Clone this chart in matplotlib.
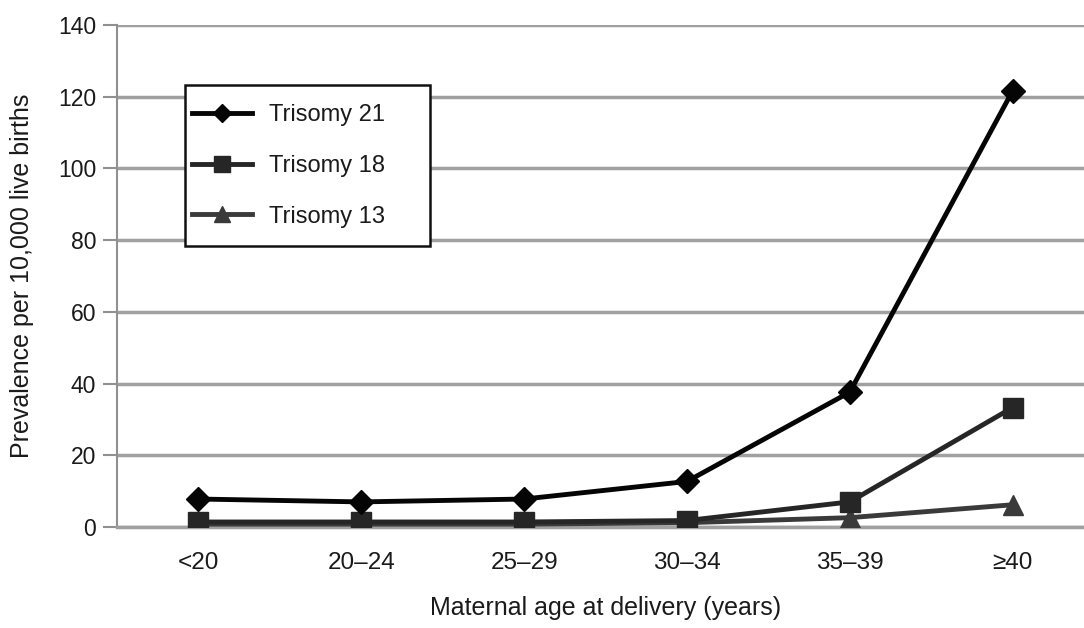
import matplotlib
matplotlib.use("Agg")
import matplotlib.pyplot as plt
from matplotlib.patches import Rectangle

plt.rcParams['font.family'] = ['Liberation Sans', 'DejaVu Sans']

age_groups = ["<20", "20\u201324", "25\u201329", "30\u201334", "35\u201339", "\u226540"]
trisomy21 = [7.8, 7.0, 7.8, 12.7, 37.6, 121.6]
trisomy18 = [1.4, 1.4, 1.4, 1.8, 7.0, 33.3]
trisomy13 = [0.8, 0.8, 0.8, 1.2, 2.6, 6.2]

W, H = 1084, 628
fig = plt.figure(figsize=(W / 100, H / 100), dpi=100)
ax_l, ax_r, ax_t, ax_b = 117, 1094, 25, 527
ax = fig.add_axes([ax_l / W, 1 - ax_b / H, (ax_r - ax_l) / W, (ax_b - ax_t) / H])

text_color = '#1a1a1a'

x = list(range(len(age_groups)))
ax.plot(x, trisomy13, color='#3a3a3a', lw=3.5, marker='^', ms=15, label='Trisomy 13', zorder=3)
ax.plot(x, trisomy18, color='#262626', lw=3.5, marker='s', ms=15, label='Trisomy 18', zorder=4)
ax.plot(x, trisomy21, color='#050505', lw=3.5, marker='D', ms=12, label='Trisomy 21', zorder=5)

ax.set_xlim(-0.5, 5.5)
ax.set_ylim(0, 140)
ax.set_yticks(range(0, 141, 20))
ax.set_xticks(x)
ax.set_xticklabels(age_groups)
ax.yaxis.grid(True, color='#a0a0a0', lw=2.5)
ax.set_axisbelow(True)

for s in ['top', 'right']:
    ax.spines[s].set_visible(False)
ax.spines['left'].set_color('#909090')
ax.spines['left'].set_linewidth(1.5)
ax.spines['bottom'].set_color('#a0a0a0')
ax.spines['bottom'].set_linewidth(2.5)

ax.tick_params(axis='y', length=10, width=1.5, color='#909090', labelsize=16.5,
               labelcolor=text_color, pad=5)
ax.tick_params(axis='x', length=0, labelsize=17.5, labelcolor=text_color, pad=18)

ax.set_ylabel('Prevalence per 10,000 live births', fontsize=18, color=text_color, labelpad=17)
ax.set_xlabel('Maternal age at delivery (years)', fontsize=18, color=text_color, labelpad=16)

# Legend box drawn as a separate frame so its padding can be asymmetric
def ax_frac(px, py):
    return (px - ax_l) / (ax_r - ax_l), (ax_b - py) / (ax_b - ax_t)

bx0, by0 = ax_frac(185, 246)
bx1, by1 = ax_frac(430, 85)
ax.add_patch(Rectangle((bx0, by0), bx1 - bx0, by1 - by0, transform=ax.transAxes,
                       facecolor='white', edgecolor='#111111', lw=1.8, zorder=6))

handles, labels = ax.get_legend_handles_labels()
order = [2, 1, 0]
ax_x, ax_y = ax_frac(192, 104)
leg = ax.legend([handles[i] for i in order], [labels[i] for i in order],
                loc='upper left', bbox_to_anchor=(ax_x, ax_y),
                fontsize=17, frameon=False, handlelength=2.55, labelspacing=1.22,
                borderpad=0, handletextpad=0.7, borderaxespad=0, markerscale=0.8)
leg.set_zorder(7)
for t in leg.get_texts():
    t.set_color(text_color)

fig.savefig('out.png', dpi=100, facecolor='white')
